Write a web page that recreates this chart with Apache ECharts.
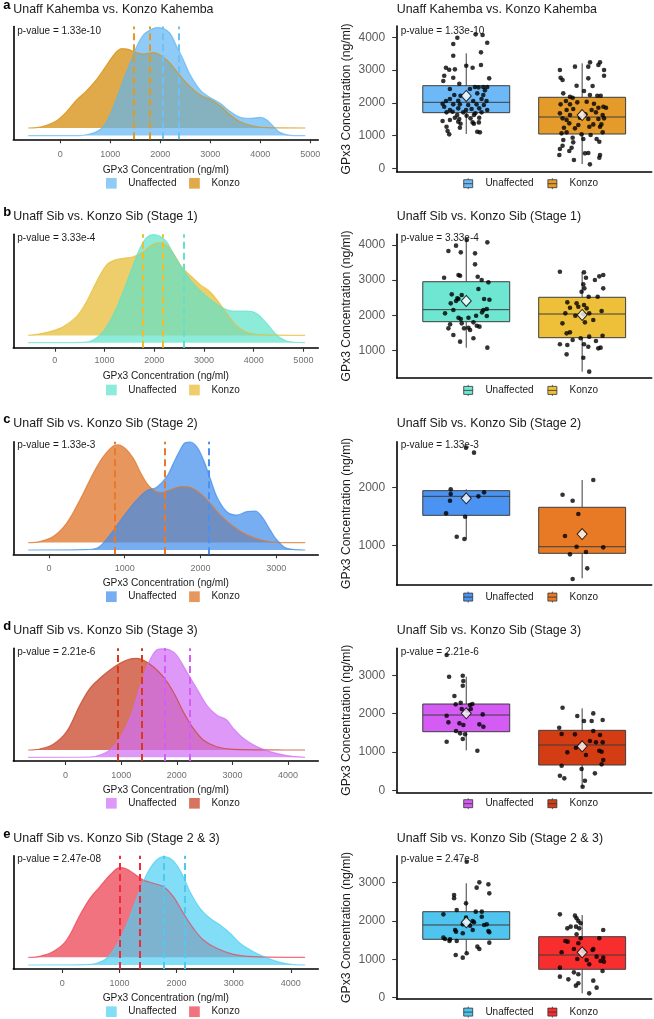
<!DOCTYPE html>
<html><head><meta charset="utf-8">
<script src="https://cdn.jsdelivr.net/npm/echarts@6/dist/echarts.min.js"></script>
<style>html,body{margin:0;padding:0;background:#fff}#c{width:654px;height:1019px}</style>
</head><body><div id="c"></div>
<script>
// ---------------- DATA ----------------
const groups = ['Unaffected', 'Konzo'];
const axisTitle = 'GPx3 Concentration (ng/ml)';
const panelLetters = ['a', 'b', 'c', 'd', 'e'];
const panelTitles = [
  'Unaff Kahemba vs. Konzo Kahemba',
  'Unaff Sib vs. Konzo Sib (Stage 1)',
  'Unaff Sib vs. Konzo Sib (Stage 2)',
  'Unaff Sib vs. Konzo Sib (Stage 3)',
  'Unaff Sib vs. Konzo Sib (Stage 2 & 3)'
];
const pLeft = ['p-value = 1.33e-10', 'p-value = 3.33e-4', 'p-value = 1.33e-3', 'p-value = 2.21e-6', 'p-value = 2.47e-08'];
const pRight = ['p-value = 1.33e-10', 'p-value = 3.33e-4', 'p-value = 1.33e-3', 'p-value = 2.21e-6', 'p-value = 2.47e-8'];

// density axis ticks / ranges
const densTicks = [
  [0, 1000, 2000, 3000, 4000, 5000],
  [0, 1000, 2000, 3000, 4000, 5000],
  [0, 1000, 2000, 3000],
  [0, 1000, 2000, 3000, 4000],
  [0, 1000, 2000, 3000, 4000]
];
const densRange = [[-940, 5160], [-835, 5300], [-470, 3555], [-940, 4545], [-858, 4482]];
// box plot axis ticks / ranges
const boxTicks = [
  [0, 1000, 2000, 3000, 4000],
  [1000, 2000, 3000, 4000],
  [1000, 2000],
  [0, 1000, 2000, 3000],
  [0, 1000, 2000, 3000]
];
const boxRange = [[-104, 4345], [219, 4305], [326, 2782], [-52, 3705], [-34, 3705]];

// density curves: [GPx3 ng/ml, relative density]
const densU_a = [[-640,0],[394,0],[594,1.7],[728,4],[861,9],[995,20.7],[1128,37.3],[1262,55.7],[1395,72.3],[1529,89],[1662,100.7],[1796,105.5],[1929,108],[2063,107],[2196,102.3],[2330,89],[2463,75.7],[2597,60.7],[2797,45.7],[2997,38],[3198,32.3],[3398,24],[3598,18.3],[3799,17.3],[3999,18.3],[4132,15.7],[4266,9],[4399,3],[4600,0.3],[4900,0]];
const densK_a = [[-640,0],[-474,0.3],[-274,2.7],[-73,7.3],[127,16.3],[327,28],[527,37.3],[728,48.7],[928,63],[1095,74.7],[1228,79.3],[1362,78.7],[1495,75.7],[1662,74],[1863,75.3],[2130,68],[2330,56.3],[2530,44.7],[2797,33],[2997,28.7],[3198,22],[3398,13],[3598,6.3],[3865,2],[4132,0.3],[4900,0]];
const densU_b = [[-537,0],[570,0.3],[772,2.7],[973,11],[1174,27.7],[1376,51],[1577,77.7],[1711,94.3],[1846,105],[1980,108],[2114,106.5],[2248,101],[2382,89.3],[2584,72.7],[2785,59.3],[2986,49.3],[3188,41],[3389,34.3],[3590,31.7],[3859,31.7],[4060,29.3],[4261,19.3],[4463,7.7],[4664,1.7],[5033,0]];
const densK_b = [[-537,0],[-369,1],[-101,3.7],[168,8.7],[436,18.7],[638,33.7],[839,53.7],[1040,70.3],[1208,75.3],[1376,77],[1577,78.7],[1778,83.7],[1946,90.3],[2114,92.7],[2248,90.3],[2382,82],[2550,68.7],[2718,60.3],[2919,51],[3121,43.7],[3288,33.7],[3456,22],[3657,9.7],[3859,3],[4127,0.7],[5033,0]];
const densU_c = [[-273,0],[454,0.3],[630,1.7],[806,15],[982,33.3],[1159,50],[1291,59.3],[1423,62.7],[1555,73.3],[1643,86.7],[1731,100],[1797,107.3],[1863,108],[1951,103.3],[2040,90],[2128,71.7],[2216,53.3],[2348,38.3],[2480,35],[2612,38.3],[2722,39],[2810,33.3],[2921,20],[3009,10],[3141,1.7],[3383,0]];
const densK_c = [[-273,0],[-119,1],[57,6],[233,19.3],[410,42.7],[586,69.3],[718,86],[850,96.7],[916,97.7],[1004,94.3],[1114,84.3],[1225,67.7],[1335,55.3],[1467,50],[1599,52.7],[1753,56],[1863,55.3],[1995,49.3],[2128,39.3],[2260,27.7],[2436,16],[2612,7.7],[2832,2],[3053,0],[3383,0]];
const densU_d = [[-672,0],[438,0.3],[618,2.3],[798,7.3],[977,19],[1157,39],[1277,59],[1397,80.7],[1517,97.3],[1637,107.3],[1757,108.5],[1877,107.3],[1997,102.3],[2177,85.7],[2357,69],[2537,52.3],[2717,42.3],[2897,37.3],[3017,29],[3196,19],[3436,10.7],[3676,5.7],[3976,1.7],[4306,0]];
const densK_d = [[-672,0],[-462,1],[-222,5.7],[18,18.3],[258,45],[438,61.7],[618,71.7],[798,80],[977,86.7],[1157,91],[1277,91.7],[1397,90],[1577,83.3],[1757,73.3],[1937,58.3],[2117,38.3],[2297,21.7],[2477,10],[2717,3.3],[3016,0.7],[4306,0]];
const densU_e = [[-596,0],[426,0.3],[601,1.7],[777,6.7],[952,20],[1127,40],[1302,66.7],[1419,83.3],[1536,96.7],[1652,105],[1769,108.5],[1886,106.7],[2003,100],[2120,88.3],[2236,73.3],[2411,56.7],[2587,46.7],[2762,40],[2937,31.7],[3112,21.7],[3346,13.3],[3579,7.3],[3813,2.7],[4046,0.3],[4251,0]];
const densK_e = [[-596,0],[-391,1],[-158,5.7],[76,17.3],[309,42.3],[485,59],[660,70.7],[835,82.3],[1010,89.7],[1127,88.3],[1244,84],[1419,77.3],[1594,74],[1769,70.7],[1944,60.7],[2120,44],[2295,29],[2470,17.3],[2703,9],[2995,3],[3346,0.7],[4251,0]];

// dashed reference lines (ng/ml)
const dashU_a = [2049, 2363], dashK_a = [1462, 1796];
const dashU_b = [2603],       dashK_b = [1765, 2167];
const dashU_c = [2106],       dashK_c = [872, 1524];
const dashU_d = [1787, 2225], dashK_d = [930, 1367];
const dashU_e = [1781, 2137], dashK_e = [998, 1349];

// box stats [lower whisker, Q1, median, Q3, upper whisker]
const boxU_a = [1047, 1698, 2015, 2522, 3511], boxK_a = [131, 1047, 1566, 2168, 3206];
const boxU_b = [1074, 1815, 2157, 2954, 4150], boxK_b = [390, 1359, 2034, 2510, 3239];
const boxU_c = [1109, 1520, 1846, 1943, 1966], boxK_c = [441, 869, 982, 1658, 2126];
const boxU_d = [1044, 1529, 1964, 2251, 2964], boxK_d = [94, 660, 1182, 1565, 2139];
const boxU_e = [1158, 1524, 1897, 2244, 2985], boxK_e = [115, 741, 1114, 1592, 2158];
// group means [Unaffected, Konzo]
const mean_a = [2208, 1627], mean_b = [2405, 2006], mean_c = [1812, 1200], mean_d = [2009, 1148], mean_e = [1967, 1184];

// jittered observations [jitter, ng/ml]
const ptsU_a = [[-0.077,3988],[0.081,4090],[0.141,4070],[-0.112,3795],[0.181,3835],[0.127,3540],[-0.112,3438],[0,3133],[0.055,3072],[0.127,3153],[-0.175,3072],[-0.147,3011],[-0.098,3021],[-0.19,2828],[-0.112,2767],[0.198,2746],[-0.198,2665],[-0.06,2583],[-0.141,2420],[0.075,2482],[0.106,2471],[0.147,2482],[0.181,2482],[0.161,2380],[0.032,2420],[-0.103,2237],[0.095,2288],[0.147,2237],[-0.049,2217],[-0.141,2115],[-0.175,2054],[-0.069,2064],[0.06,2054],[0.132,2115],[0.175,2054],[-0.204,1973],[-0.112,1952],[-0.055,1952],[0.017,1932],[0.089,1952],[0.152,1932],[-0.19,1881],[-0.141,1779],[-0.069,1830],[-0.002,1779],[0.046,1810],[0.112,1830],[0.181,1779],[-0.17,1708],[-0.118,1728],[-0.026,1708],[0.078,1677],[0.132,1708],[-0.078,1626],[0.003,1606],[0.066,1626],[-0.098,1545],[-0.06,1504],[0.037,1525],[0.112,1545],[-0.141,1474],[-0.204,1443],[-0.069,1423],[0.055,1402],[0.109,1402],[-0.049,1362],[0.066,1362],[-0.17,1270],[-0.055,1240],[-0.161,1138],[-0.147,1036],[0.095,1118],[0.118,1097]];
const ptsK_a = [[0.068,3235],[0.154,3235],[0.053,3103],[-0.062,3103],[0.14,3153],[-0.192,3001],[0.189,3001],[-0.186,2767],[-0.169,2695],[0.053,2746],[0.189,2828],[-0.048,2522],[0.09,2512],[-0.163,2288],[0.016,2359],[0.067,2237],[0.131,2217],[0.16,2217],[-0.105,2186],[-0.082,2156],[-0.14,2054],[-0.186,1952],[-0.105,1952],[-0.042,2013],[0.039,2034],[0.102,1973],[0.14,1850],[0.183,1881],[0.206,1850],[-0.134,1779],[-0.077,1810],[0.082,1779],[-0.192,1677],[-0.105,1626],[0.028,1647],[0.119,1708],[0.177,1626],[-0.169,1525],[-0.134,1474],[-0.019,1545],[0.053,1504],[0.14,1504],[0.189,1525],[-0.111,1372],[-0.033,1321],[0.096,1341],[0.166,1341],[-0.157,1240],[-0.062,1219],[0.062,1270],[0.154,1270],[-0.178,1067],[-0.134,1097],[-0.005,1036],[0.073,1016],[0.177,1097],[-0.082,934],[-0.163,863],[0.01,893],[0.125,893],[-0.077,792],[0.148,812],[-0.169,690],[-0.091,629],[-0.192,588],[-0.111,527],[0.024,456],[0.053,466],[-0.197,405],[0.154,405],[0.148,324],[-0.071,252],[0.067,120]];
const ptsU_b = [[0.004,4142],[0.182,4075],[-0.088,3981],[-0.154,3829],[-0.047,3791],[0.076,3762],[0.076,3449],[-0.191,3069],[-0.067,3145],[-0.053,3126],[0.099,3097],[0.133,3002],[0.191,2936],[0.105,2746],[-0.125,2594],[-0.039,2575],[-0.077,2480],[-0.134,2337],[-0.088,2404],[-0.067,2461],[0.154,2461],[0.2,2442],[-0.111,2148],[0.148,2148],[0.177,2176],[-0.183,2053],[0.136,2081],[0.085,1986],[0.177,1977],[-0.067,1929],[0.019,1929],[-0.047,1891],[-0.139,1739],[-0.039,1768],[0.062,1796],[0.091,1701],[0.114,1673],[-0.154,1625],[0.019,1644],[0.033,1578],[-0.019,1625],[-0.111,1435],[0.062,1341],[-0.053,1246],[0.182,1075]];
const ptsK_b = [[-0.192,3240],[0.016,3221],[0.182,3145],[0.148,3107],[0.11,3002],[0.033,3069],[0.01,2879],[0.019,2765],[-0.005,2670],[0.056,2527],[0.134,2527],[0.182,2765],[-0.128,2366],[-0.048,2337],[0.016,2290],[-0.033,2242],[-0.105,2214],[0.039,2195],[0.168,2119],[-0.145,2053],[-0.059,1986],[0.01,2024],[0.061,2053],[-0.17,1768],[0.024,1796],[0.096,1863],[-0.105,1511],[-0.134,1483],[0.176,1416],[0.061,1388],[-0.082,1293],[-0.013,1341],[0.119,1265],[-0.192,1170],[-0.128,1151],[0.016,1170],[0.053,1103],[0.139,1056],[0.159,1075],[-0.134,885],[0.01,789],[0.061,391]];
const ptsU_c = [[-0.002,2680],[0.067,2594],[-0.134,1965],[-0.134,1885],[0.105,1845],[0.154,1914],[-0.14,1771],[-0.174,1554],[-0.01,1497],[-0.082,1154],[-0.016,1114]];
const ptsK_c = [[-0.169,1874],[0.096,2125],[-0.082,1771],[-0.033,1543],[-0.148,1165],[-0.048,982],[0.182,971],[0.033,891],[-0.105,851],[0.044,611],[-0.082,428]];
const ptsU_d = [[-0.169,3529],[-0.148,2964],[-0.03,2990],[-0.025,2851],[-0.03,2729],[-0.102,2460],[-0.091,2242],[-0.048,2286],[0.033,2225],[0.053,2251],[0.039,2121],[-0.039,2121],[0.01,2068],[-0.169,1947],[0.142,1981],[-0.154,1773],[-0.059,1747],[-0.025,1703],[0.113,1721],[0.148,1660],[-0.088,1547],[-0.053,1486],[-0.01,1460],[-0.03,1338],[-0.169,1268],[0.096,1033]];
const ptsK_d = [[-0.169,2155],[-0.042,1938],[0.096,2007],[0.016,1807],[0.082,1807],[0.177,1834],[-0.198,1634],[-0.177,1468],[-0.062,1460],[0.096,1547],[0.154,1442],[0.067,1286],[0.119,1251],[0.177,1251],[-0.054,1112],[-0.128,990],[0.033,921],[0.148,1033],[0.168,1007],[0.182,790],[0.168,677],[-0.177,642],[-0.005,555],[0.11,442],[-0.192,381],[-0.154,312],[0.024,251],[0.004,94]];
const ptsU_e = [[0.004,3549],[0.113,3010],[0.191,2958],[0.09,2871],[0.199,2723],[-0.105,2680],[-0.105,2593],[-0.002,2462],[-0.082,2288],[0.082,2245],[0.134,2245],[-0.197,2175],[0.134,2114],[-0.002,2088],[0.056,2001],[0.067,1967],[-0.03,1914],[0.033,1880],[0.154,1897],[0.177,1914],[0.056,1767],[-0.096,1767],[-0.088,1723],[0.191,1741],[0.199,1706],[-0.03,1680],[-0.197,1567],[-0.183,1532],[-0.145,1480],[-0.082,1480],[-0.14,1523],[0.199,1436],[0.096,1332],[0.113,1271],[-0.091,1114],[0.004,1158],[-0.03,1045]];
const ptsK_e = [[-0.192,2175],[-0.062,2141],[-0.048,2071],[-0.033,2001],[-0.013,1941],[-0.053,1854],[-0.099,1854],[-0.128,1810],[-0.025,1810],[0.182,1767],[-0.048,1654],[-0.013,1550],[0.148,1550],[-0.145,1480],[-0.125,1462],[-0.033,1419],[-0.177,1184],[-0.071,1271],[0.01,1219],[0.096,1271],[0.09,1245],[0.125,1071],[0.182,1045],[0.159,958],[0.188,941],[0.061,871],[0.039,984],[-0.042,1010],[-0.192,784],[0.176,697],[-0.071,662],[-0.033,610],[-0.192,549],[-0.119,479],[0.096,445],[-0.033,375],[-0.054,314],[0.125,262],[0.061,114]];

// ---------------- STYLE / LAYOUT ----------------
const densFill = [
  ['rgba(95,181,242,0.7)', 'rgba(216,148,28,0.8)'],
  ['rgba(93,226,203,0.7)', 'rgba(232,190,58,0.75)'],
  ['rgba(61,138,235,0.7)', 'rgba(224,122,48,0.78)'],
  ['rgba(208,112,245,0.72)', 'rgba(200,70,42,0.75)'],
  ['rgba(77,207,242,0.7)', 'rgba(238,68,85,0.75)']
];
const dashColor = [
  ['#6EC1F5', '#E39A1E'], ['#66E0CC', '#EDBE2E'], ['#4A90F0', '#E8782A'], ['#D65CF5', '#D63A1A'], ['#52C8F0', '#F02A3A']
];
const boxColor = [
  ['#6DB9F8', '#E59B2A'], ['#6EE6D2', '#EEC03A'], ['#4A93F2', '#E87A25'], ['#D45CF5', '#D43D14'], ['#4EC4EE', '#F82D2D']
];
// per-row layout (px)
const layout = [
  {titleY: 9.3,   pY: 31,    lTop: 26.5,  lH: 112.8, baseU: 3.7, baseK: 11.3, lblM: 10.3, nameG: 25.6, legY: 183.3, rTop: 26,    rH: 145.7},
  {titleY: 216.9, pY: 238.3, lTop: 234.3, lH: 113.4, baseU: 5.0, baseK: 12.3, lblM: 8.6,  nameG: 23.8, legY: 390,   rTop: 234.3, rH: 143.4},
  {titleY: 424,   pY: 445,   lTop: 441.7, lH: 112.6, baseU: 4.3, baseK: 11.7, lblM: 9.4,  nameG: 23.9, legY: 596.7, rTop: 441.7, rH: 143.3},
  {titleY: 631,   pY: 652.3, lTop: 648.3, lH: 112.7, baseU: 3.7, baseK: 11.0, lblM: 9.9,  nameG: 23.9, legY: 803.3, rTop: 648.3, rH: 144},
  {titleY: 838.3, pY: 859,   lTop: 855.7, lH: 113.3, baseU: 4.0, baseK: 11.7, lblM: 10.3, nameG: 24.2, legY: 1011.7, rTop: 855.7, rH: 143.3}
];

const densU = [densU_a, densU_b, densU_c, densU_d, densU_e];
const densK = [densK_a, densK_b, densK_c, densK_d, densK_e];
const dashU = [dashU_a, dashU_b, dashU_c, dashU_d, dashU_e];
const dashK = [dashK_a, dashK_b, dashK_c, dashK_d, dashK_e];
const boxU = [boxU_a, boxU_b, boxU_c, boxU_d, boxU_e];
const boxK = [boxK_a, boxK_b, boxK_c, boxK_d, boxK_e];
const means = [mean_a, mean_b, mean_c, mean_d, mean_e];
const ptsU = [ptsU_a, ptsU_b, ptsU_c, ptsU_d, ptsU_e];
const ptsK = [ptsK_a, ptsK_b, ptsK_c, ptsK_d, ptsK_e];

const FONT = '"Liberation Sans", Arial, Helvetica, sans-serif';
const BOX_HALF = 0.375;
const boxIcon = 'path://M5,15L85,15L85,95L5,95Z M45,0L45,15 M45,95L45,110 M5,55L85,55';
const plain = v => String(v);

function renderBox(params, api) {
  const x = api.value(0), lo = api.value(1), q1 = api.value(2), med = api.value(3), q3 = api.value(4), hi = api.value(5);
  const tl = api.coord([x - BOX_HALF, q3]), br = api.coord([x + BOX_HALF, q1]);
  const ml = api.coord([x - BOX_HALF, med]), mr = api.coord([x + BOX_HALF, med]);
  const pt = api.coord([x, hi]), p3 = api.coord([x, q3]), p1 = api.coord([x, q1]), pb = api.coord([x, lo]);
  const stroke = '#3d3d3d', lw = 1;
  return {type: 'group', children: [
    {type: 'line', shape: {x1: pt[0], y1: pt[1], x2: p3[0], y2: p3[1]}, style: {stroke, lineWidth: lw}},
    {type: 'line', shape: {x1: p1[0], y1: p1[1], x2: pb[0], y2: pb[1]}, style: {stroke, lineWidth: lw}},
    {type: 'rect', shape: {x: tl[0], y: tl[1], width: br[0] - tl[0], height: br[1] - tl[1]}, style: {fill: api.visual('color'), stroke, lineWidth: lw}},
    {type: 'line', shape: {x1: ml[0], y1: ml[1], x2: mr[0], y2: mr[1]}, style: {stroke, lineWidth: lw}}
  ]};
}

const option = {
  animation: false, backgroundColor: '#ffffff',
  textStyle: {fontFamily: FONT},
  grid: [], xAxis: [], yAxis: [], series: [], title: [], legend: []
};

for (let i = 0; i < 5; i++) {
  const L = layout[i];
  const gL = 2 * i, gR = 2 * i + 1;
  option.grid.push({left: 13.3, top: L.lTop, width: 305, height: L.lH, containLabel: false, outerBoundsMode: 'none'});
  option.grid.push({left: 396.7, top: L.rTop, width: 255, height: L.rH, containLabel: false, outerBoundsMode: 'none'});

  const axLine = {show: true, onZero: false, lineStyle: {color: '#000', width: 1.6}};
  // density panel axes
  option.xAxis.push({type: 'value', gridIndex: gL, min: densRange[i][0], max: densRange[i][1],
    name: axisTitle, nameLocation: 'middle', nameGap: L.nameG,
    nameTextStyle: {fontSize: 10.2, color: '#1a1a1a', fontFamily: FONT},
    axisLine: axLine,
    axisTick: {show: true, customValues: densTicks[i], length: 4, lineStyle: {color: '#333', width: 1.1}},
    axisLabel: {show: true, customValues: densTicks[i], formatter: plain, margin: L.lblM, fontSize: 9, color: '#707070', fontFamily: FONT},
    splitLine: {show: false}});
  option.yAxis.push({type: 'value', gridIndex: gL, min: 0, max: L.lH,
    axisLine: axLine, axisTick: {show: false}, axisLabel: {show: false}, splitLine: {show: false}});
  // box panel axes
  option.xAxis.push({type: 'value', gridIndex: gR, min: 0.4, max: 2.6,
    axisLine: axLine, axisTick: {show: false}, axisLabel: {show: false}, splitLine: {show: false}});
  option.yAxis.push({type: 'value', gridIndex: gR, min: boxRange[i][0], max: boxRange[i][1],
    name: axisTitle, nameLocation: 'middle', nameRotate: 90, nameGap: 44,
    nameTextStyle: {fontSize: 12.2, color: '#1a1a1a', fontFamily: FONT},
    axisLine: axLine,
    axisTick: {show: true, customValues: boxTicks[i], length: 4.5, lineStyle: {color: '#333', width: 1.1}},
    axisLabel: {show: true, customValues: boxTicks[i], formatter: plain, margin: 11.5, fontSize: 12, color: '#5a5a5a', fontFamily: FONT},
    splitLine: {show: false}});

  // densities: Konzo first, Unaffected on top
  const mkDens = (name, curve, base, fill, dash, dcol) => ({
    type: 'line', name, xAxisIndex: gL, yAxisIndex: gL, silent: true,
    data: curve.map(p => [p[0], base + p[1]]),
    smooth: 0.35, symbol: 'none', showSymbol: false,
    lineStyle: {color: fill, width: 1.2},
    itemStyle: {color: fill},
    areaStyle: {color: fill, opacity: 1, origin: base},
    markLine: {silent: true, symbol: ['none', 'none'], label: {show: false}, z: 6,
      lineStyle: {color: dcol, width: 2, type: [7, 4], opacity: 1},
      emphasis: {disabled: true},
      data: dash.map(v => ({xAxis: v}))},
    z: 2
  });
  option.series.push(mkDens('Konzo', densK[i], L.baseK, densFill[i][1], dashK[i], dashColor[i][1]));
  option.series.push(mkDens('Unaffected', densU[i], L.baseU, densFill[i][0], dashU[i], dashColor[i][0]));

  // boxes
  option.series.push({type: 'custom', name: 'box' + i, xAxisIndex: gR, yAxisIndex: gR, silent: true, z: 2,
    renderItem: renderBox, encode: {x: 0, y: [1, 2, 3, 4, 5]},
    data: [boxU[i], boxK[i]].map((b, g) => ({value: [g + 1].concat(b), itemStyle: {color: boxColor[i][g]}}))});
  // jittered points
  [ptsU[i], ptsK[i]].forEach((pts, g) => {
    option.series.push({type: 'scatter', name: 'pts' + i + g, xAxisIndex: gR, yAxisIndex: gR, silent: true, z: 3,
      symbol: 'circle', symbolSize: 4.6, itemStyle: {color: '#000'},
      data: pts.map(p => [g + 1 + p[0], p[1]])});
  });
  // means
  option.series.push({type: 'scatter', name: 'mean' + i, xAxisIndex: gR, yAxisIndex: gR, silent: true, z: 4,
    symbol: 'diamond', symbolSize: [10, 11], itemStyle: {color: '#fff', borderColor: '#000', borderWidth: 1},
    data: means[i].map((m, g) => [g + 1, m])});

  // titles & annotations
  const t = (text, left, top, size, weight) => ({text, left, top, padding: 0,
    textStyle: {fontSize: size, fontWeight: weight, color: weight === 'bold' ? '#000' : '#1a1a1a', fontFamily: FONT}});
  option.title.push(t(panelLetters[i], 3.3, L.titleY - 10.6, 13, 'bold'));
  option.title.push(t(panelTitles[i], 13.3, L.titleY - 6.2, 12.4, 'normal'));
  option.title.push(t(panelTitles[i], 396.7, L.titleY - 6.2, 12.4, 'normal'));
  option.title.push(t(pLeft[i], 17.3, L.pY - 5, 10, 'normal'));
  option.title.push(t(pRight[i], 400.7, L.pY - 5, 10, 'normal'));

  // legends
  option.legend.push({left: 106, top: L.legY - 5.35, orient: 'horizontal', padding: 0, selectedMode: false,
    itemWidth: 10.7, itemHeight: 10.7, itemGap: 12.6,
    textStyle: {fontSize: 10, color: '#1a1a1a', fontFamily: FONT, padding: [0, 0, 0, 6.6]},
    data: groups.map((g, k) => ({name: g, icon: 'rect', itemStyle: {color: densFill[i][k], borderWidth: 0}}))});
  option.legend.push({left: 463.3, top: L.legY - 5.5, orient: 'horizontal', padding: 0, selectedMode: false,
    itemWidth: 9, itemHeight: 11, itemGap: 13.9, symbolKeepAspect: false,
    textStyle: {fontSize: 10, color: '#1a1a1a', fontFamily: FONT, padding: [0, 0, 0, 7.7]},
    data: groups.map((g, k) => ({name: g, icon: boxIcon, itemStyle: {color: boxColor[i][k], borderColor: '#333', borderWidth: 0.8}}))});
}

const chart = echarts.init(document.getElementById('c'), null, {renderer: 'canvas'});
chart.setOption(option);
</script>
</body></html>
